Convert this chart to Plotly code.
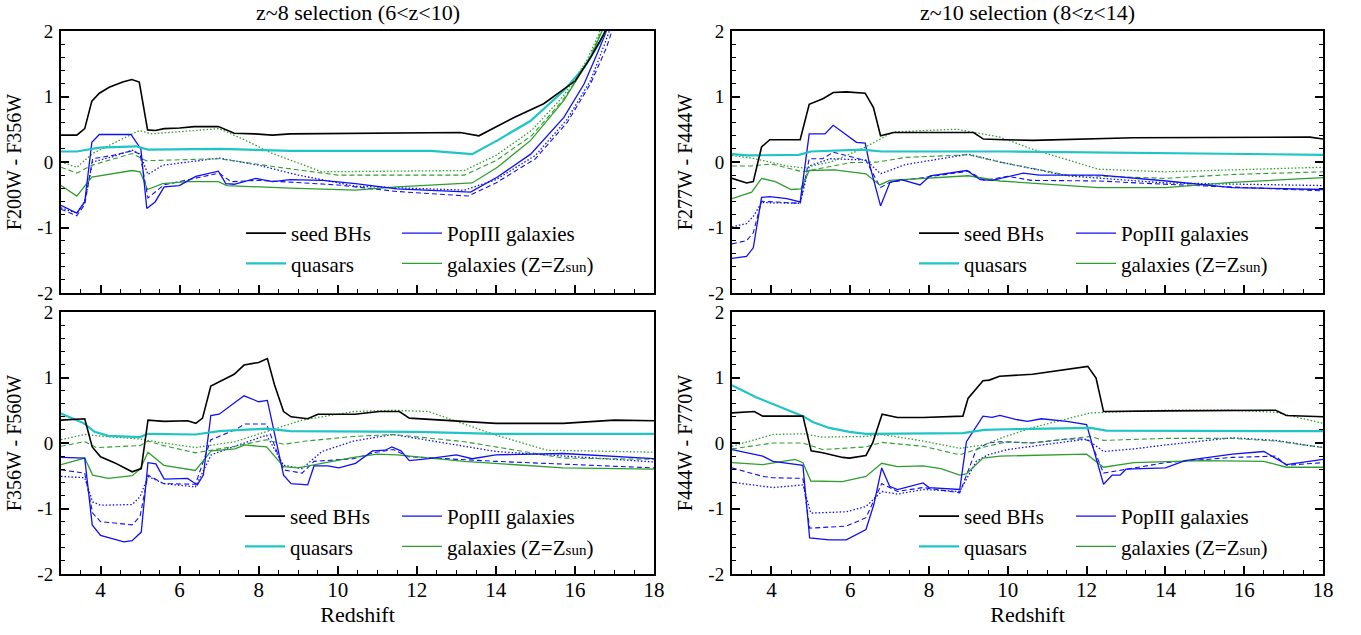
import plotly.graph_objects as go

# ── Data: (redshift, colour) pairs ────────────────────────────────────────
# top-left: F200W - F356W
tl_seed = [(3, 0.41), (3.4, 0.41), (3.6, 0.51), (3.78, 0.93), (3.97, 1.05), (4.22, 1.14), (4.56, 1.22),
           (4.79, 1.26), (4.98, 1.22), (5.19, 0.49), (5.38, 0.48), (5.61, 0.51), (6.0, 0.52), (6.37, 0.54),
           (6.98, 0.54), (7.38, 0.44), (7.9, 0.43), (8.35, 0.41), (8.8, 0.43), (10.5, 0.44), (13.1, 0.45),
           (13.57, 0.40), (14.46, 0.68), (15.21, 0.89), (15.72, 1.11), (16.01, 1.24), (16.39, 1.59),
           (16.73, 1.95), (17.0, 2.3)]
tl_qso = [(3, 0.16), (3.4, 0.16), (3.97, 0.22), (4.9, 0.24), (5.2, 0.19), (7.05, 0.20), (8.8, 0.17),
          (12.35, 0.17), (13.4, 0.12), (14.04, 0.33), (14.88, 0.63), (15.72, 1.09), (16.23, 1.44),
          (16.65, 1.85), (17.0, 2.3)]
tl_pop3 = [(3, -0.66), (3.4, -0.78), (3.6, -0.61), (3.78, 0.30), (3.97, 0.42), (4.77, 0.42), (5.02, 0.20),
           (5.17, -0.71), (5.38, -0.61), (5.61, -0.38), (5.99, -0.36), (6.41, -0.22), (6.98, -0.14),
           (7.17, -0.33), (7.38, -0.34), (7.93, -0.25), (8.35, -0.30), (8.8, -0.27), (9.61, -0.28),
           (10.45, -0.33), (11.5, -0.41), (13.36, -0.46), (14.04, -0.23), (14.88, 0.12), (15.72, 0.68),
           (16.23, 1.19), (16.56, 1.65), (16.77, 1.95), (17.0, 2.3)]
tl_pop3_da = [(3, -0.72), (3.4, -0.82), (3.6, -0.65), (3.8, 0.05), (4.3, 0.10), (4.8, 0.17), (5.0, 0.12),
              (5.2, -0.55), (5.6, -0.35), (6.0, -0.30), (7.0, -0.17), (7.3, -0.30), (8.0, -0.28),
              (10.0, -0.35), (11.5, -0.45), (13.3, -0.52), (14.0, -0.32), (15.0, 0.05), (15.8, 0.6),
              (16.4, 1.2), (16.8, 1.75), (17.1, 2.3)]
tl_pop3_do = [(3, -0.70), (3.4, -0.78), (3.6, -0.6), (3.8, 0.0), (4.3, 0.08), (4.8, 0.18), (5.0, 0.12),
              (5.2, -0.19), (5.57, -0.05), (7.0, 0.06), (8.0, -0.05), (9.0, -0.2), (10.45, -0.37),
              (13.2, -0.43), (14.0, -0.27), (15.0, 0.1), (15.8, 0.65), (16.4, 1.25), (16.75, 1.8), (17.05, 2.3)]
tl_gal = [(3, -0.36), (3.4, -0.52), (3.78, -0.23), (4.8, -0.13), (5.0, -0.15), (5.19, -0.42), (5.57, -0.33),
          (6.2, -0.30), (6.98, -0.30), (7.2, -0.36), (8.8, -0.40), (10.45, -0.43), (11.5, -0.38),
          (13.4, -0.32), (14.04, -0.08), (14.88, 0.33), (15.72, 0.94), (16.39, 1.59), (16.65, 1.95), (16.9, 2.3)]
tl_gal_da = [(3, -0.08), (3.4, -0.17), (3.78, -0.05), (4.8, 0.13), (5.15, 0.02), (7.0, 0.05), (8.5, -0.08),
             (10.0, -0.2), (13.2, -0.2), (14.0, 0.02), (14.9, 0.4), (15.7, 0.95), (16.3, 1.5), (16.6, 1.9),
             (16.85, 2.3)]
tl_gal_do = [(3, 0.0), (3.4, -0.08), (3.8, 0.13), (4.98, 0.48), (5.3, 0.43), (7.0, 0.51), (7.6, 0.35),
             (8.35, 0.13), (9.6, -0.15), (13.2, -0.13), (14.0, 0.1), (14.9, 0.48), (15.7, 1.0), (16.3, 1.55),
             (16.6, 1.95), (16.8, 2.3)]

# top-right: F277W - F444W
tr_seed = [(3, -0.25), (3.37, -0.32), (3.54, -0.30), (3.75, 0.23), (3.96, 0.34), (4.73, 0.34), (4.96, 0.88),
           (5.32, 0.97), (5.57, 1.06), (5.9, 1.07), (6.38, 1.05), (6.59, 0.83), (6.77, 0.40), (7.1, 0.45),
           (9.13, 0.45), (9.38, 0.35), (9.9, 0.34), (10.64, 0.33), (13.19, 0.37), (15.7, 0.38),
           (17.67, 0.38), (18, 0.35)]
tr_qso = [(3, 0.12), (3.4, 0.10), (4.7, 0.11), (5.0, 0.16), (6.3, 0.19), (6.8, 0.16), (10.0, 0.16),
          (14.0, 0.14), (18, 0.11)]
tr_pop3 = [(3, -1.47), (3.37, -1.44), (3.54, -1.31), (3.75, -0.54), (3.96, -0.53), (4.39, -0.56),
           (4.73, -0.61), (4.96, 0.43), (5.36, 0.43), (5.57, 0.56), (6.16, 0.30), (6.38, 0.29), (6.5, -0.06),
           (6.77, -0.67), (7.01, -0.31), (7.3, -0.27), (7.77, -0.35), (8.03, -0.21), (8.96, -0.13),
           (9.3, -0.27), (9.6, -0.28), (10.0, -0.22), (10.39, -0.17), (10.8, -0.20), (12.34, -0.20),
           (14.03, -0.29), (15.7, -0.39), (18, -0.42)]
tr_pop3_da = [(3, -1.25), (3.37, -1.20), (3.54, -1.08), (3.75, -0.60), (4.73, -0.63), (4.96, 0.05),
              (5.3, 0.05), (5.57, 0.15), (6.4, 0.02), (6.77, -0.39), (7.0, -0.31), (8.0, -0.22),
              (9.0, -0.14), (9.4, -0.28), (10.0, -0.22), (10.6, -0.28), (12.3, -0.29), (14.0, -0.34),
              (18, -0.44)]
tr_pop3_do = [(3, -0.99), (3.37, -0.94), (3.54, -0.83), (3.75, -0.62), (4.73, -0.63), (4.96, -0.06),
              (5.5, 0.05), (6.4, 0.03), (6.77, -0.18), (7.4, -0.04), (9.0, 0.12), (9.8, 0.0), (11.5, -0.21),
              (14.0, -0.32), (18, -0.36)]
tr_gal = [(3, -0.56), (3.5, -0.46), (3.75, -0.25), (4.1, -0.30), (4.5, -0.42), (4.75, -0.41), (4.96, -0.13),
          (5.6, -0.12), (6.4, -0.18), (6.75, -0.35), (7.0, -0.28), (9.0, -0.21), (9.8, -0.29),
          (12.3, -0.39), (14.0, -0.39), (15.7, -0.31), (18, -0.24)]
tr_gal_da = [(3, -0.06), (3.5, -0.06), (4.0, -0.03), (4.8, -0.15), (6.0, -0.01), (6.7, 0.0), (7.4, 0.07),
             (9.0, 0.11), (9.8, 0.0), (11.5, -0.2), (14.0, -0.25), (15.7, -0.19), (18, -0.15)]
tr_gal_do = [(3, 0.10), (3.5, 0.06), (4.4, -0.06), (4.8, -0.09), (5.5, 0.0), (6.3, 0.2), (7.1, 0.46),
             (8.7, 0.50), (9.8, 0.38), (10.6, 0.2), (12.3, -0.11), (14.0, -0.15), (18, -0.08)]

# bottom-left: F356W - F560W
bl_seed = [(3, 0.35), (3.6, 0.37), (3.79, -0.06), (4.0, -0.21), (4.35, -0.30), (4.8, -0.44), (5.03, -0.39),
           (5.2, 0.35), (5.61, 0.33), (6.2, 0.34), (6.41, 0.30), (6.58, 0.38), (6.79, 0.87), (7.38, 1.05),
           (7.63, 1.19), (8.0, 1.23), (8.22, 1.29), (8.4, 0.89), (8.63, 0.48), (8.82, 0.40), (9.24, 0.37),
           (9.5, 0.44), (10.43, 0.44), (11.05, 0.48), (11.56, 0.48), (11.81, 0.38), (13.16, 0.33),
           (14.0, 0.30), (15.7, 0.30), (17.0, 0.35), (18, 0.34)]
bl_qso = [(3, 0.45), (3.58, 0.30), (3.85, 0.17), (4.2, 0.11), (5.0, 0.09), (5.2, 0.14), (6.4, 0.13),
          (7.0, 0.18), (8.2, 0.22), (8.8, 0.18), (12.0, 0.17), (14.0, 0.14), (18, 0.14)]
bl_pop3 = [(3, -0.22), (3.6, -0.23), (3.79, -1.25), (4.0, -1.41), (4.59, -1.51), (4.8, -1.49), (5.03, -1.36),
           (5.2, -0.30), (5.4, -0.32), (5.61, -0.55), (6.2, -0.54), (6.45, -0.64), (6.6, -0.49), (6.79, 0.42),
           (7.0, 0.44), (7.25, 0.55), (7.63, 0.72), (8.0, 0.63), (8.22, 0.65), (8.63, -0.49), (8.82, -0.62),
           (9.24, -0.64), (9.4, -0.35), (9.75, -0.35), (10.03, -0.38), (10.45, -0.31), (10.88, -0.12),
           (11.2, -0.11), (11.37, -0.06), (11.6, -0.12), (11.81, -0.27), (12.3, -0.24), (13.0, -0.18),
           (13.4, -0.24), (14.0, -0.18), (15.7, -0.16), (18, -0.24)]
bl_pop3_da = [(3, -0.41), (3.6, -0.46), (3.8, -1.07), (4.0, -1.20), (4.8, -1.25), (5.0, -1.12), (5.2, -0.49),
              (5.6, -0.62), (6.4, -0.63), (6.79, 0.05), (7.4, 0.20), (7.65, 0.29), (8.2, 0.29), (8.63, -0.41),
              (9.1, -0.46), (9.4, -0.28), (10.4, -0.24), (10.9, -0.15), (11.4, -0.10), (11.8, -0.21),
              (14.0, -0.28), (18, -0.38)]
bl_pop3_do = [(3, -0.51), (3.6, -0.53), (3.8, -0.90), (4.0, -0.95), (4.8, -0.94), (5.0, -0.82), (5.2, -0.51),
              (5.6, -0.62), (6.4, -0.67), (6.8, -0.18), (7.4, -0.05), (8.2, 0.12), (8.63, -0.34), (9.1, -0.39),
              (9.6, -0.13), (10.4, 0.03), (11.4, 0.13), (14.0, -0.13), (18, -0.29)]
bl_gal = [(3, -0.33), (3.6, -0.23), (3.8, -0.49), (4.2, -0.54), (4.8, -0.50), (5.0, -0.40), (5.2, -0.14),
          (5.6, -0.34), (6.4, -0.42), (6.8, -0.12), (7.4, -0.09), (7.65, -0.03), (8.2, -0.06), (8.63, -0.36),
          (9.0, -0.38), (10.4, -0.22), (11.0, -0.17), (11.5, -0.18), (13.2, -0.28), (15.7, -0.38), (18, -0.40)]
bl_gal_da = [(3, -0.05), (3.6, 0.02), (3.9, -0.07), (5.0, -0.04), (5.2, 0.03), (5.6, -0.04), (6.4, -0.15),
             (7.4, -0.05), (8.2, 0.05), (8.63, -0.02), (9.2, 0.03), (10.4, 0.10), (11.4, 0.13), (13.2, 0.02),
             (15.7, -0.23), (18, -0.25)]
bl_gal_do = [(3, 0.05), (3.6, 0.13), (4.1, 0.10), (5.0, 0.06), (5.6, 0.0), (6.4, -0.07), (7.4, 0.02),
             (8.2, 0.17), (9.1, 0.35), (10.4, 0.48), (11.4, 0.50), (12.3, 0.48), (14.0, 0.12), (15.3, -0.11),
             (18, -0.14)]

# bottom-right: F444W - F770W
br_seed = [(3, 0.46), (3.57, 0.48), (3.78, 0.41), (4.8, 0.41), (5.01, -0.12), (5.3, -0.15), (5.81, -0.22),
           (5.98, -0.23), (6.4, -0.19), (6.57, 0.0), (6.81, 0.44), (7.2, 0.39), (7.85, 0.39), (8.86, 0.41),
           (8.99, 0.68), (9.37, 0.95), (9.53, 0.96), (9.79, 1.02), (10.63, 1.05), (11.48, 1.12), (12.03, 1.17),
           (12.24, 0.99), (12.43, 0.48), (14.02, 0.49), (15.7, 0.50), (16.8, 0.50), (17.07, 0.42), (18, 0.40)]
br_qso = [(3, 0.88), (3.61, 0.70), (4.8, 0.41), (5.05, 0.32), (5.47, 0.23), (5.98, 0.17), (6.4, 0.14),
          (7.85, 0.14), (8.86, 0.15), (9.4, 0.20), (10.0, 0.21), (12.1, 0.23), (12.5, 0.19), (18, 0.18)]
br_pop3 = [(3, -0.10), (3.78, -0.20), (4.04, -0.28), (4.8, -0.34), (4.97, -1.45), (5.47, -1.48), (5.9, -1.48),
           (6.4, -1.32), (6.6, -0.94), (6.8, -0.38), (7.0, -0.66), (7.2, -0.71), (7.85, -0.61), (8.0, -0.68),
           (8.78, -0.71), (8.95, 0.02), (9.37, 0.41), (9.6, 0.39), (9.8, 0.42), (10.2, 0.36), (10.5, 0.33),
           (10.85, 0.37), (11.5, 0.33), (11.8, 0.30), (12.0, 0.28), (12.43, -0.63), (12.65, -0.49),
           (12.85, -0.49), (13.0, -0.40), (14.0, -0.38), (14.5, -0.27), (15.7, -0.17), (16.5, -0.13),
           (17.07, -0.33), (18, -0.25)]
br_pop3_da = [(3, -0.38), (3.78, -0.51), (4.04, -0.53), (4.8, -0.54), (4.97, -1.30), (5.9, -1.27), (6.4, -1.14),
              (6.8, -0.62), (7.2, -0.74), (7.85, -0.68), (8.78, -0.76), (9.2, -0.10), (9.5, 0.0), (9.8, 0.02),
              (10.6, 0.0), (11.5, 0.06), (11.9, 0.06), (12.1, 0.03), (12.43, -0.46), (13.2, -0.38),
              (14.0, -0.30), (15.7, -0.22), (16.8, -0.20), (17.07, -0.34), (18, -0.30)]
br_pop3_do = [(3, -0.60), (4.04, -0.68), (4.8, -0.64), (5.0, -1.07), (5.9, -1.05), (6.4, -0.97), (6.8, -0.74),
              (7.2, -0.78), (7.85, -0.71), (8.78, -0.74), (9.2, -0.28), (9.5, -0.18), (10.0, -0.10),
              (10.6, -0.05), (11.5, 0.02), (12.0, 0.06), (12.43, -0.13), (13.2, -0.09), (14.0, -0.03),
              (15.7, 0.08), (16.8, 0.04), (18, -0.07)]
br_gal = [(3, -0.30), (3.78, -0.33), (4.6, -0.25), (4.8, -0.30), (5.0, -0.58), (5.8, -0.59), (6.4, -0.51),
          (6.8, -0.31), (7.2, -0.36), (7.85, -0.35), (8.3, -0.39), (8.78, -0.49), (8.95, -0.47), (9.37, -0.23),
          (9.8, -0.20), (10.6, -0.19), (11.5, -0.17), (12.0, -0.17), (12.43, -0.37), (13.2, -0.30),
          (14.9, -0.27), (16.5, -0.28), (17.07, -0.37), (18, -0.37)]
br_gal_da = [(3, -0.09), (4.04, 0.0), (4.8, 0.0), (5.3, -0.10), (6.4, -0.06), (6.8, 0.01), (7.85, -0.05),
             (8.78, -0.18), (9.4, -0.06), (10.0, 0.02), (10.6, 0.0), (12.1, 0.10), (12.43, 0.04), (14.0, 0.07),
             (15.7, 0.07), (16.8, 0.03), (18, -0.07)]
br_gal_do = [(3, -0.05), (4.04, 0.13), (4.8, 0.14), (5.3, 0.09), (6.4, 0.10), (6.8, 0.13), (7.85, 0.03),
             (8.78, -0.08), (9.4, -0.03), (9.8, 0.07), (10.6, 0.23), (11.5, 0.37), (12.1, 0.46), (14.0, 0.50),
             (15.7, 0.50), (16.8, 0.47), (18, 0.30)]

PANEL_TITLES = ["z~8 selection (6<z<10)", "z~10 selection (8<z<14)"]
Y_TITLES = ["F200W - F356W", "F277W - F444W", "F356W - F560W", "F444W - F770W"]
Y_TICKS = [-2, -1, 0, 1, 2]
X_TICKS = [4, 6, 8, 10, 12, 14, 16, 18]

# ── Style ─────────────────────────────────────────────────────────────────
FONT = "'Liberation Serif', 'Times New Roman', Times, serif"
BLACK, CYAN, BLUE, GREEN = "#000000", "#1fc4c4", "#1010f0", "#2e9e2e"
DASH, DOT = "5px,3px", "1.5px,2px"

W, H = 1361, 635
# panel boxes in pixels: (x0, x1, ytop, ybottom)
BOXES = [(61, 654, 31, 293), (732, 1323, 31, 293), (61, 654, 312, 574), (732, 1323, 312, 574)]
# legend anchors in pixels: (left column x, right column x, top y)
LEG_POS = [(241, 397, 213), (914, 1071, 213), (240, 397, 496), (914, 1071, 496)]

panels = [
    (tl_seed, tl_qso, tl_pop3, tl_pop3_da, tl_pop3_do, tl_gal, tl_gal_da, tl_gal_do),
    (tr_seed, tr_qso, tr_pop3, tr_pop3_da, tr_pop3_do, tr_gal, tr_gal_da, tr_gal_do),
    (bl_seed, bl_qso, bl_pop3, bl_pop3_da, bl_pop3_do, bl_gal, bl_gal_da, bl_gal_do),
    (br_seed, br_qso, br_pop3, br_pop3_da, br_pop3_do, br_gal, br_gal_da, br_gal_do),
]

GAL_LABEL = 'galaxies (Z=Z<span style="font-size:15px">sun</span>)'

fig = go.Figure()
layout = {}

for i, series in enumerate(panels):
    k = "" if i == 0 else str(i + 1)
    xa, ya = "x" + k, "y" + k
    leg_a = "legend" if i == 0 else f"legend{2 * i + 1}"
    leg_b = f"legend{2 * i + 2}"
    seed, qso, p3, p3da, p3do, gal, galda, galdo = series

    # (data, colour, width, dash, legend name, legend id, legend rank)
    spec = [
        (p3do, BLUE, 1.3, DOT, None, None, 0),
        (p3da, BLUE, 1.1, DASH, None, None, 0),
        (galdo, GREEN, 1.3, DOT, None, None, 0),
        (galda, GREEN, 1.1, DASH, None, None, 0),
        (gal, GREEN, 1.3, None, GAL_LABEL, leg_b, 2),
        (p3, BLUE, 1.3, None, "PopIII galaxies", leg_b, 1),
        (qso, CYAN, 2.2, None, "quasars", leg_a, 2),
        (seed, BLACK, 1.6, None, "seed BHs", leg_a, 1),
    ]
    for data, col, lw, dash, name, leg, rank in spec:
        z = [p[0] for p in data]
        v = [p[1] for p in data]
        tr = go.Scatter(x=z, y=v, mode="lines", xaxis=xa, yaxis=ya,
                        line=dict(color=col, width=lw, dash=dash),
                        hoverinfo="skip")
        if name:
            tr.update(name=name, legend=leg, legendrank=rank)
        else:
            tr.update(showlegend=False)
        fig.add_trace(tr)

    x0, x1, yt, yb = BOXES[i]
    right_col = i % 2 == 1
    bottom_row = i >= 2
    layout["xaxis" + k] = dict(
        domain=[x0 / W, x1 / W], anchor=ya, range=[3, 18],
        showline=True, linewidth=2, linecolor="black", mirror=True,
        ticks="inside", ticklen=8, tickwidth=1.5, tickcolor="black",
        tickvals=X_TICKS, showticklabels=bottom_row, ticklabelstandoff=-4,
        minor=dict(ticks="inside", ticklen=4, tickwidth=1, dtick=0.5, tickcolor="black"),
        showgrid=False, zeroline=False, automargin=False,
        title=dict(text="Redshift" if bottom_row else "", standoff=2,
                   font=dict(family=FONT, size=22, color="black")),
        tickfont=dict(family=FONT, size=21, color="black"),
    )
    layout["yaxis" + k] = dict(
        domain=[1 - yb / H, 1 - yt / H], anchor=xa, range=[-2, 2],
        showline=True, linewidth=2, linecolor="black",
        mirror="ticks" if right_col else True,
        ticks="inside", ticklen=8, tickwidth=1.5, tickcolor="black",
        tickvals=Y_TICKS, ticktext=[str(t) for t in Y_TICKS], ticklabelstandoff=2,
        minor=dict(ticks="inside", ticklen=4, tickwidth=1, dtick=0.2, tickcolor="black"),
        showgrid=False, zeroline=False, automargin=False,
        title=dict(text=Y_TITLES[i], standoff=10, font=dict(family=FONT, size=20, color="black")),
        tickfont=dict(family=FONT, size=19, color="black"),
    )

    la, lb, ly = LEG_POS[i]
    for leg, lx in ((leg_a, la), (leg_b, lb)):
        layout[leg] = dict(
            x=lx / W, y=1 - ly / H, xanchor="left", yanchor="top",
            bgcolor="rgba(0,0,0,0)", borderwidth=0,
            font=dict(family=FONT, size=21, color="black"),
            traceorder="normal", itemwidth=40,
        )

annotations = []
for j, t in enumerate(PANEL_TITLES):
    x0, x1, _, _ = BOXES[j]
    annotations.append(dict(text=t, x=(x0 + x1) / 2 / W, y=1 - 13 / H, xref="paper", yref="paper",
                            xanchor="center", yanchor="middle", showarrow=False,
                            font=dict(family=FONT, size=22, color="black")))

fig.update_layout(
    **layout,
    annotations=annotations,
    width=W, height=H,
    margin=dict(l=0, r=0, t=0, b=0),
    paper_bgcolor="white", plot_bgcolor="white",
    font=dict(family=FONT, size=20, color="black"),
    showlegend=True,
)

# page body margin would shift the fixed-size figure; remove it
fig.write_html("out.html", config={"displayModeBar": False},
               post_script="document.body.style.margin='0';")
